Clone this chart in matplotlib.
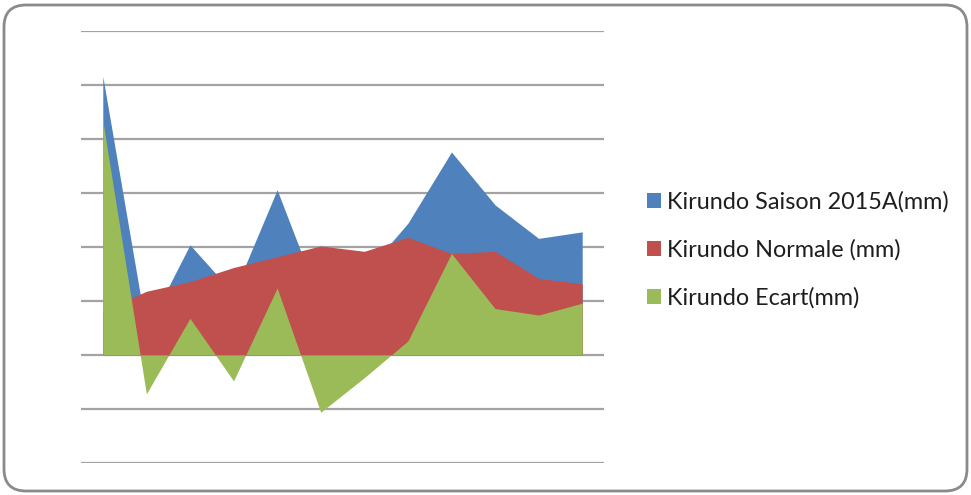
import matplotlib
matplotlib.use("Agg")
import matplotlib.pyplot as plt
from matplotlib.patches import FancyBboxPatch, Patch
import numpy as np

# rainfall per period, mm (no axis labels shown)
periods = list(range(12))
saison = [258, 23, 102, 57, 153, 48, 75, 122, 188, 139, 108, 114]
normale = [41, 59, 68, 81, 91, 101, 96, 109, 94, 96, 71, 66]
ecart = [217, -36, 34, -24, 62, -53, -21, 13, 94, 43, 37, 48]

labels = ["Kirundo Saison 2015A(mm)", "Kirundo Normale (mm)", "Kirundo Ecart(mm)"]
colors = ["#4F81BD", "#C0504D", "#9BBB59"]

W, H = 971, 495
fig = plt.figure(figsize=(W / 100, H / 100), dpi=100)

# rounded frame around the whole chart
bg = fig.add_axes([0, 0, 1, 1])
bg.set_xlim(0, W)
bg.set_ylim(H, 0)
bg.axis("off")
frame = FancyBboxPatch((4, 5), 963, 486, boxstyle="round,pad=0,rounding_size=22",
                       fc="white", ec="#8a8a8a", lw=2)
bg.add_patch(frame)

ax = fig.add_axes([81 / W, (H - 463) / H, (604 - 81) / W, (463 - 31) / H])
ax.set_facecolor("none")
x = np.array(periods)
for vals, c in zip([saison, normale, ecart], colors):
    ax.fill_between(x, 0, vals, color=c, lw=0, zorder=2)

ax.set_xlim(-0.5, 11.5)
ax.set_ylim(-100, 300)
ax.set_yticks(np.arange(-100, 301, 50))
ax.set_xticks([])
ax.yaxis.grid(True, color="#a3a3a3", lw=1.6, zorder=1)
ax.set_axisbelow(True)
ax.tick_params(left=False, labelleft=False)
for s in ax.spines.values():
    s.set_visible(False)

handles = [Patch(fc=c, ec="none") for c in colors]
leg = fig.legend(handles, labels, loc="upper left", bbox_to_anchor=(626 / W, 1 - 170 / H),
                 frameon=False, prop={"family": "Lato", "size": 16.8},
                 handlelength=0.62, handleheight=0.62, handletextpad=0.25, labelspacing=1.14)
for t in leg.get_texts():
    t.set_color("#1e1e1e")

fig.savefig("out.png", dpi=100)
